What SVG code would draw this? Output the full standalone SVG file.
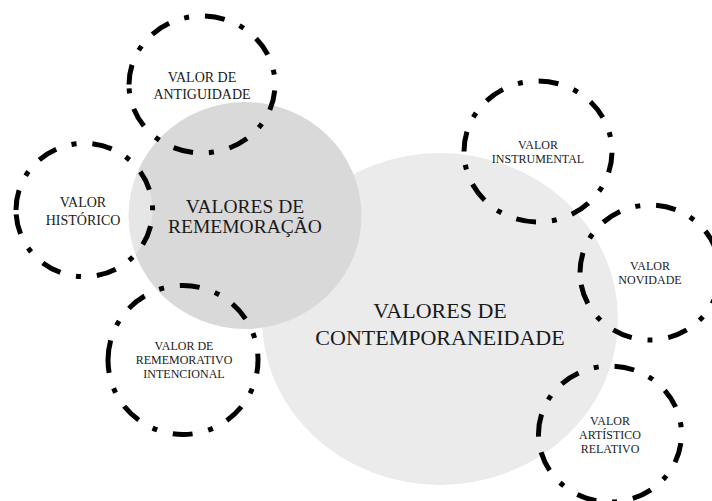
<svg xmlns="http://www.w3.org/2000/svg" width="712" height="501" viewBox="0 0 712 501">
<style>
.ring{fill:none;stroke:#000;stroke-width:5;stroke-dasharray:20 16 5 16;}
.t{font-family:"Liberation Serif","Times New Roman",serif;fill:#1a1a1a;text-anchor:middle;}
.s12{font-size:12px;}
.s14{font-size:14px;}
</style>
<rect width="712" height="501" fill="#fff"/>
<g id="contemporaneidade">
<ellipse cx="440" cy="319" rx="178" ry="166" fill="#ebebeb"/>
<text class="t" font-size="22" x="440" y="318">VALORES DE</text>
<text class="t" font-size="22" x="440" y="344.5">CONTEMPORANEIDADE</text>
</g>
<g id="rememoracao">
<ellipse cx="245" cy="215.5" rx="116.5" ry="113.5" fill="#d9d9d9"/>
<text class="t" font-size="19.5" x="245" y="213.3">VALORES DE</text>
<text class="t" font-size="19.5" x="245" y="233.3">REMEMORAÇÃO</text>
</g>
<g id="antiguidade">
<path class="ring" d="M129 84.5A73 68.5 0 1 1 275 84.5A73 68.5 0 1 1 129 84.5"/>
<text class="t s14" x="202" y="82.3">VALOR DE</text>
<text class="t s14" x="202" y="98.7">ANTIGUIDADE</text>
</g>
<g id="historico">
<ellipse cx="84.3" cy="210" rx="68.3" ry="66.7" fill="#fff" fill-opacity="0.35"/>
<path class="ring" d="M16 210A68.3 66.7 0 1 1 152.6 210A68.3 66.7 0 1 1 16 210"/>
<text class="t s14" x="83" y="207.3">VALOR</text>
<text class="t s14" x="83" y="224.5">HISTÓRICO</text>
</g>
<g id="intencional">
<path class="ring" d="M108 360A75 74.5 0 1 1 258 360A75 74.5 0 1 1 108 360"/>
<text class="t s12" x="184" y="350">VALOR DE</text>
<text class="t s12" x="184" y="364">REMEMORATIVO</text>
<text class="t s12" x="184" y="378">INTENCIONAL</text>
</g>
<g id="instrumental">
<path class="ring" d="M464 151.5A74 70.5 0 1 1 612 151.5A74 70.5 0 1 1 464 151.5"/>
<text class="t s12" x="538" y="149.3">VALOR</text>
<text class="t s12" x="538" y="162.7">INSTRUMENTAL</text>
</g>
<g id="novidade">
<path class="ring" d="M580 272.5A70 67.5 0 1 1 720 272.5A70 67.5 0 1 1 580 272.5"/>
<text class="t s12" x="650" y="270">VALOR</text>
<text class="t s12" x="650" y="284">NOVIDADE</text>
</g>
<g id="artistico">
<path class="ring" d="M538.5 434A71.5 68 0 1 1 681.5 434A71.5 68 0 1 1 538.5 434"/>
<text class="t s12" x="610" y="425">VALOR</text>
<text class="t s12" x="610" y="439.3">ARTÍSTICO</text>
<text class="t s12" x="610" y="453.3">RELATIVO</text>
</g>
</svg>
